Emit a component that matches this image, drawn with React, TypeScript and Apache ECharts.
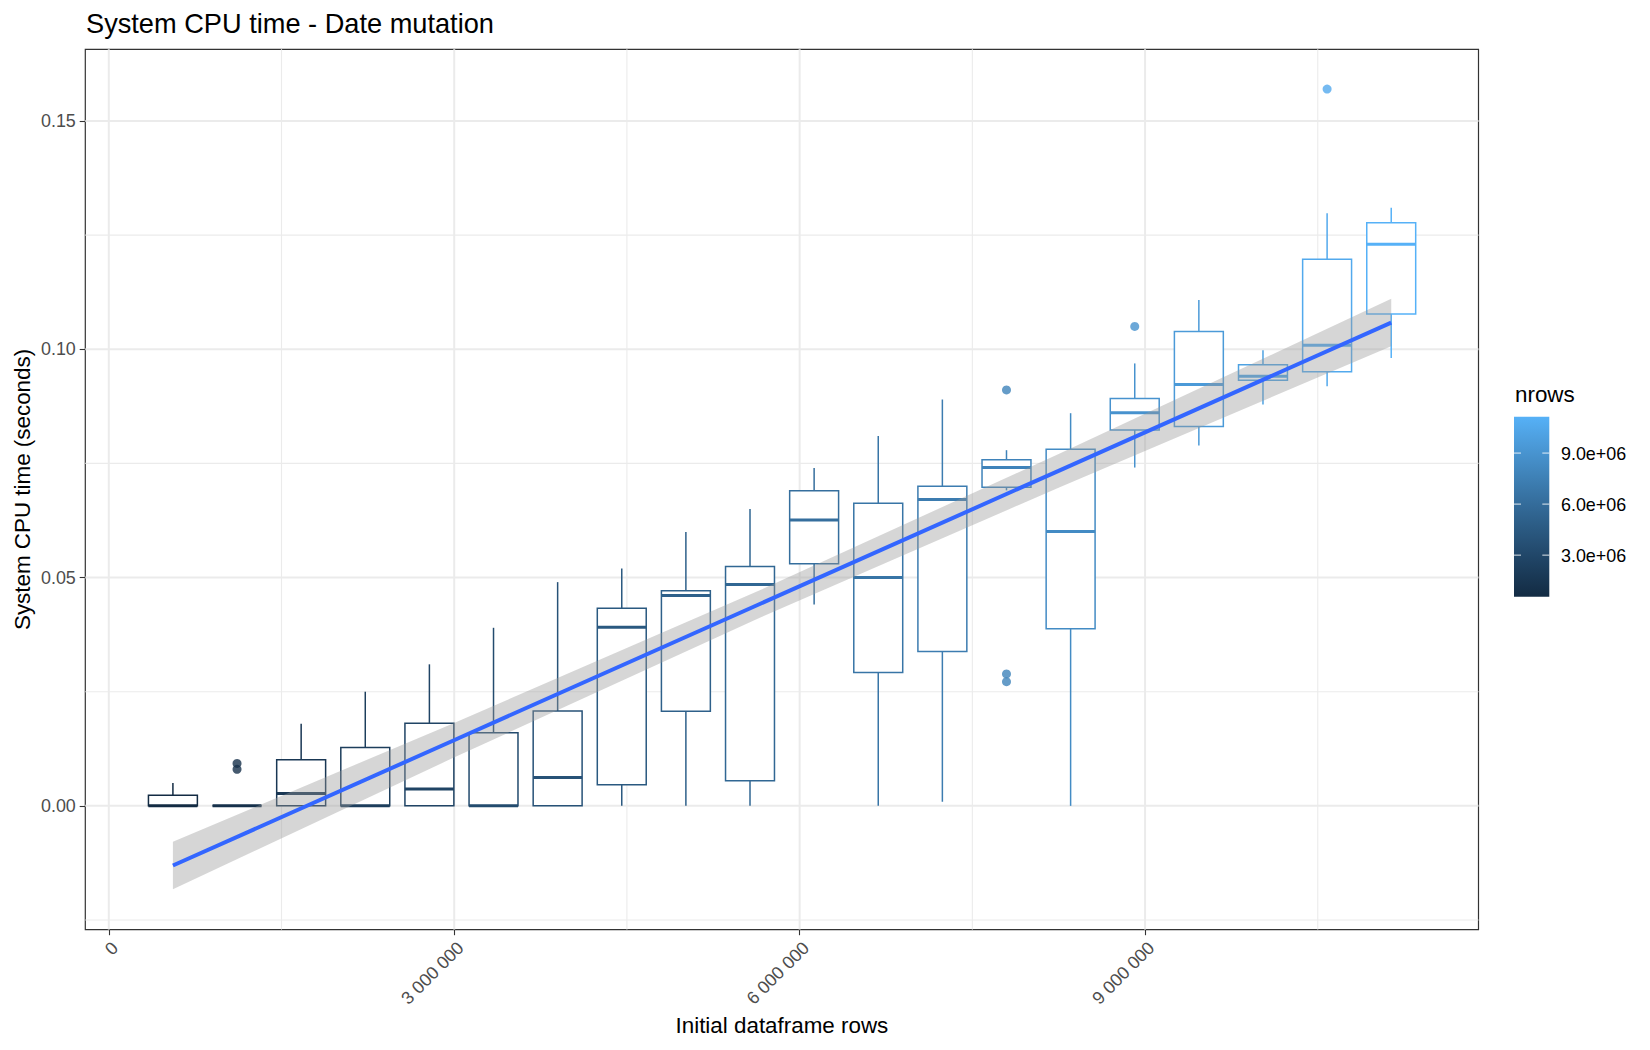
import React, { useEffect, useRef } from "react";
import * as echarts from "echarts";

// ---------- data ----------
const nrows = [
  556900, 1113800, 1670700, 2227600, 2784500, 3341400, 3898300, 4455200, 5012100, 5569000,
  6125900, 6682800, 7239700, 7796600, 8353500, 8910400, 9467300, 10024200, 10581100, 11138000,
];
const whiskerLow = [
  0, 0, 0, 0, 0, 0, 0, 0, 0, 0,
  0.0441, 0, 0.0009, 0.0691, 0, 0.0741, 0.0789, 0.0879, 0.0919, 0.0981,
];
const q1 = [
  0, 0, 0, 0, 0, 0, 0, 0.0046, 0.0207, 0.0055,
  0.053, 0.0292, 0.0338, 0.0698, 0.0388, 0.0823, 0.0831, 0.0932, 0.0951, 0.1077,
];
const median = [
  0, 0, 0.0027, 0, 0.0037, 0, 0.0062, 0.0391, 0.0461, 0.0485,
  0.0626, 0.05, 0.0671, 0.0741, 0.0601, 0.0861, 0.0923, 0.0941, 0.1009, 0.123,
];
const q3 = [
  0.0023, 0, 0.0101, 0.0128, 0.0181, 0.016, 0.0208, 0.0433, 0.0471, 0.0524,
  0.069, 0.0663, 0.07, 0.0758, 0.0781, 0.0892, 0.1039, 0.0966, 0.1197, 0.1277,
];
const whiskerHigh = [
  0.005, 0, 0.018, 0.025, 0.031, 0.039, 0.049, 0.052, 0.06, 0.065,
  0.074, 0.081, 0.089, 0.0779, 0.086, 0.0969, 0.1108, 0.0998, 0.1298, 0.131,
];
const outlierX = [1113800, 1113800, 7796600, 7796600, 7796600, 8910400, 10581100];
const outlierY = [0.0093, 0.008, 0.0911, 0.0289, 0.0272, 0.105, 0.157];

const smoothX = [556900, 2964000, 5654000, 8259000, 11138000];
const smoothFit = [-0.01306, 0.01399, 0.04421, 0.07349, 0.10584];
const smoothLo = [-0.01826, 0.01019, 0.04121, 0.06979, 0.10064];
const smoothHi = [-0.00786, 0.01779, 0.04721, 0.07719, 0.11104];

const xMajorTicks = [0, 3000000, 6000000, 9000000];
const xMinorTicks = [1500000, 4500000, 7500000, 10500000];
const yMajorTicks = [0, 0.05, 0.1, 0.15];
const yMinorTicks = [-0.025, 0.025, 0.075, 0.125];
const legendTicks = [3000000, 6000000, 9000000];
const legendTickLabels = ["3.0e+06", "6.0e+06", "9.0e+06"];

// ---------- styling ----------
const FONT = "Liberation Sans, Arial, Helvetica, sans-serif";
const BOX_WIDTH = 425000;
const LOW_COLOR = "#132B43";
const HIGH_COLOR = "#56B1F7";
const GRID = { left: 85.3, top: 49.3, width: 1393.2, height: 880.3 };
const X_MIN = -204000;
const X_MAX = 11896000;
const Y_MIN = -0.0271;
const Y_MAX = 0.1657;

// Lab colour interpolation (as ggplot's seq_gradient_pal)
function hexToRgb(h: string) {
  const n = parseInt(h.slice(1), 16);
  return [(n >> 16) & 255, (n >> 8) & 255, n & 255];
}
function toLin(c: number) {
  c /= 255;
  return c <= 0.04045 ? c / 12.92 : Math.pow((c + 0.055) / 1.055, 2.4);
}
function fromLin(c: number) {
  const v = c <= 0.0031308 ? 12.92 * c : 1.055 * Math.pow(c, 1 / 2.4) - 0.055;
  return Math.max(0, Math.min(255, Math.round(v * 255)));
}
const XN = 0.95047, YN = 1, ZN = 1.08883;
function rgbToLab(rgb: number[]) {
  const [r, g, b] = rgb.map(toLin);
  const X = (0.4124564 * r + 0.3575761 * g + 0.1804375 * b) / XN;
  const Y = (0.2126729 * r + 0.7151522 * g + 0.072175 * b) / YN;
  const Z = (0.0193339 * r + 0.119192 * g + 0.9503041 * b) / ZN;
  const f = (t: number) => (t > 0.008856 ? Math.cbrt(t) : 7.787 * t + 16 / 116);
  const fx = f(X), fy = f(Y), fz = f(Z);
  return [116 * fy - 16, 500 * (fx - fy), 200 * (fy - fz)];
}
function labToHex(lab: number[]) {
  const [L, a, b] = lab;
  const fy = (L + 16) / 116;
  const fx = fy + a / 500;
  const fz = fy - b / 200;
  const inv = (t: number) => (t * t * t > 0.008856 ? t * t * t : (t - 16 / 116) / 7.787);
  const X = inv(fx) * XN, Y = inv(fy) * YN, Z = inv(fz) * ZN;
  const r = 3.2404542 * X - 1.5371385 * Y - 0.4985314 * Z;
  const g = -0.969266 * X + 1.8760108 * Y + 0.041556 * Z;
  const bb = 0.0556434 * X - 0.2040259 * Y + 1.0572252 * Z;
  const hex = (v: number) => fromLin(v).toString(16).padStart(2, "0");
  return "#" + hex(r) + hex(g) + hex(bb);
}
const labLow = rgbToLab(hexToRgb(LOW_COLOR));
const labHigh = rgbToLab(hexToRgb(HIGH_COLOR));
const nMin = Math.min(...nrows);
const nMax = Math.max(...nrows);
function colorFor(v: number) {
  const t = Math.max(0, Math.min(1, (v - nMin) / (nMax - nMin)));
  return labToHex([0, 1, 2].map((i) => labLow[i] + t * (labHigh[i] - labLow[i])));
}

function fmtThousands(v: number) {
  return String(Math.round(v)).replace(/\B(?=(\d{3})+(?!\d))/g, " ");
}

function buildOption() {
  const gridData: number[][] = [];
  xMajorTicks.forEach((v) => gridData.push([v, 0, 1]));
  xMinorTicks.forEach((v) => gridData.push([v, 0, 0]));
  yMajorTicks.forEach((v) => gridData.push([v, 1, 1]));
  yMinorTicks.forEach((v) => gridData.push([v, 1, 0]));

  const boxData = nrows.map((x, i) => [x, whiskerLow[i], q1[i], median[i], q3[i], whiskerHigh[i]]);
  const outlierData = outlierX.map((x, i) => [x, outlierY[i]]);
  const lineData = smoothX.map((x, i) => [x, smoothFit[i]]);

  // legend colour bar geometry
  const barX = 1514, barY = 416.7, barW = 35.3, barH = 180;
  const stops = [];
  for (let i = 0; i <= 10; i++) {
    const t = i / 10;
    stops.push({ offset: t, color: colorFor(nMin + t * (nMax - nMin)) });
  }
  const legendY = (v: number) => barY + barH - ((v - nMin) / (nMax - nMin)) * barH;
  const legendEls: any[] = [
    {
      type: "rect",
      shape: { x: barX, y: barY, width: barW, height: barH },
      style: {
        fill: new echarts.graphic.LinearGradient(0, 1, 0, 0, stops),
      },
      silent: true,
    },
  ];
  legendTicks.forEach((v, i) => {
    const y = legendY(v);
    legendEls.push({
      type: "line",
      shape: { x1: barX, y1: y, x2: barX + 7, y2: y },
      style: { stroke: "rgba(255,255,255,0.85)", lineWidth: 1 },
      silent: true,
    });
    legendEls.push({
      type: "line",
      shape: { x1: barX + barW - 7, y1: y, x2: barX + barW, y2: y },
      style: { stroke: "rgba(255,255,255,0.85)", lineWidth: 1 },
      silent: true,
    });
    legendEls.push({
      type: "text",
      x: 1561,
      y: y + 1.2,
      style: {
        text: legendTickLabels[i],
        font: `17.9px ${FONT}`,
        fill: "#000000",
        align: "left",
        verticalAlign: "middle",
        textAlign: "left",
        textVerticalAlign: "middle",
      },
      silent: true,
    });
  });
  legendEls.push({
    type: "text",
    x: 1515,
    y: 394,
    style: {
      text: "nrows",
      font: `22.4px ${FONT}`,
      fill: "#000000",
      align: "left",
      verticalAlign: "middle",
      textAlign: "left",
      textVerticalAlign: "middle",
    },
    silent: true,
  });

  const titles: any[] = [
    {
      type: "text",
      x: 86,
      y: 23.2,
      style: {
        text: "System CPU time - Date mutation",
        font: `27.2px ${FONT}`,
        fill: "#000000",
        align: "left",
        verticalAlign: "middle",
        textAlign: "left",
        textVerticalAlign: "middle",
      },
      silent: true,
    },
    {
      type: "text",
      x: GRID.left + GRID.width / 2,
      y: 1025.5,
      style: {
        text: "Initial dataframe rows",
        font: `22.4px ${FONT}`,
        fill: "#000000",
        align: "center",
        verticalAlign: "middle",
        textAlign: "center",
        textVerticalAlign: "middle",
      },
      silent: true,
    },
    {
      type: "text",
      x: 22,
      y: GRID.top + GRID.height / 2,
      rotation: Math.PI / 2,
      style: {
        text: "System CPU time (seconds)",
        font: `22.4px ${FONT}`,
        fill: "#000000",
        align: "center",
        verticalAlign: "middle",
        textAlign: "center",
        textVerticalAlign: "middle",
      },
      silent: true,
    },
  ];

  return {
    animation: false,
    backgroundColor: "#FFFFFF",
    grid: {
      left: GRID.left,
      top: GRID.top,
      width: GRID.width,
      height: GRID.height,
      show: true,
      borderColor: "#333333",
      borderWidth: 1.2,
      backgroundColor: "transparent",
      containLabel: false,
    },
    xAxis: {
      type: "value",
      min: X_MIN,
      max: X_MAX,
      position: "bottom",
      axisLine: { show: false, onZero: false },
      splitLine: { show: false },
      axisTick: {
        show: true,
        customValues: xMajorTicks,
        length: 5.6,
        lineStyle: { color: "#333333", width: 1.1 },
      },
      axisLabel: {
        show: true,
        customValues: xMajorTicks,
        rotate: 45,
        align: "right",
        verticalAlign: "top",
        margin: 9,
        fontFamily: FONT,
        fontSize: 17.9,
        color: "#4D4D4D",
        formatter: (v: number) => fmtThousands(v),
      },
    },
    yAxis: {
      type: "value",
      min: Y_MIN,
      max: Y_MAX,
      position: "left",
      axisLine: { show: false, onZero: false },
      splitLine: { show: false },
      axisTick: {
        show: true,
        customValues: yMajorTicks,
        length: 5.6,
        lineStyle: { color: "#333333", width: 1.1 },
      },
      axisLabel: {
        show: true,
        customValues: yMajorTicks,
        margin: 9.5,
        fontFamily: FONT,
        fontSize: 17.9,
        color: "#4D4D4D",
        formatter: (v: number) => v.toFixed(2),
      },
    },
    series: [
      {
        type: "custom",
        name: "grid",
        z: 1,
        silent: true,
        clip: false,
        data: gridData,
        renderItem: (params: any, api: any) => {
          const cs = params.coordSys;
          const v = api.value(0);
          const dir = api.value(1);
          const major = api.value(2) === 1;
          const style = { stroke: "#EBEBEB", lineWidth: major ? 2 : 1.1 };
          if (dir === 0) {
            const px = api.coord([v, 0])[0];
            return {
              type: "line",
              shape: { x1: px, y1: cs.y, x2: px, y2: cs.y + cs.height },
              style,
            };
          }
          const py = api.coord([0, v])[1];
          return {
            type: "line",
            shape: { x1: cs.x, y1: py, x2: cs.x + cs.width, y2: py },
            style,
          };
        },
      },
      {
        type: "custom",
        name: "boxes",
        z: 2,
        silent: true,
        clip: false,
        data: boxData,
        encode: { x: 0, y: [1, 2, 3, 4, 5] },
        renderItem: (params: any, api: any) => {
          const x = api.value(0);
          const color = colorFor(x);
          const pLow = api.coord([x, api.value(1)]);
          const pQ1 = api.coord([x, api.value(2)]);
          const pMed = api.coord([x, api.value(3)]);
          const pQ3 = api.coord([x, api.value(4)]);
          const pHigh = api.coord([x, api.value(5)]);
          const hw = api.size([BOX_WIDTH, 0])[0] / 2;
          const cx = pMed[0];
          const lw = 1.5;
          return {
            type: "group",
            children: [
              {
                type: "line",
                shape: { x1: cx, y1: pQ3[1], x2: cx, y2: pHigh[1] },
                style: { stroke: color, lineWidth: lw },
              },
              {
                type: "line",
                shape: { x1: cx, y1: pQ1[1], x2: cx, y2: pLow[1] },
                style: { stroke: color, lineWidth: lw },
              },
              {
                type: "rect",
                shape: { x: cx - hw, y: pQ3[1], width: hw * 2, height: pQ1[1] - pQ3[1] },
                style: { fill: "#FFFFFF", stroke: color, lineWidth: lw },
              },
              {
                type: "line",
                shape: { x1: cx - hw, y1: pMed[1], x2: cx + hw, y2: pMed[1] },
                style: { stroke: color, lineWidth: 3 },
              },
            ],
          };
        },
      },
      {
        type: "scatter",
        name: "outliers",
        z: 2,
        silent: true,
        data: outlierData,
        symbol: "circle",
        symbolSize: 9,
        itemStyle: {
          color: (p: any) => colorFor(p.value[0]),
        },
      },
      {
        type: "custom",
        name: "band",
        z: 3,
        silent: true,
        clip: false,
        data: [[smoothX[0], smoothFit[0]]],
        renderItem: (params: any, api: any) => {
          const pts: number[][] = [];
          for (let i = 0; i < smoothX.length; i++) pts.push(api.coord([smoothX[i], smoothHi[i]]));
          for (let i = smoothX.length - 1; i >= 0; i--) pts.push(api.coord([smoothX[i], smoothLo[i]]));
          return {
            type: "polygon",
            shape: { points: pts },
            style: { fill: "rgba(153,153,153,0.4)", stroke: "none" },
          };
        },
      },
      {
        type: "line",
        name: "fit",
        z: 4,
        silent: true,
        data: lineData,
        symbol: "none",
        lineStyle: { color: "#3366FF", width: 4 },
      },
    ],
    graphic: { elements: [...legendEls, ...titles] },
  };
}

export default function App() {
  const ref = useRef<HTMLDivElement>(null);
  useEffect(() => {
    if (!ref.current) return;
    const chart = echarts.init(ref.current, undefined, { renderer: "svg" });
    chart.setOption(buildOption() as any);
    return () => chart.dispose();
  }, []);
  return (
    <div
      ref={ref}
      style={{ position: "fixed", left: 0, top: 0, width: 1650, height: 1050, background: "#FFFFFF" }}
    />
  );
}
